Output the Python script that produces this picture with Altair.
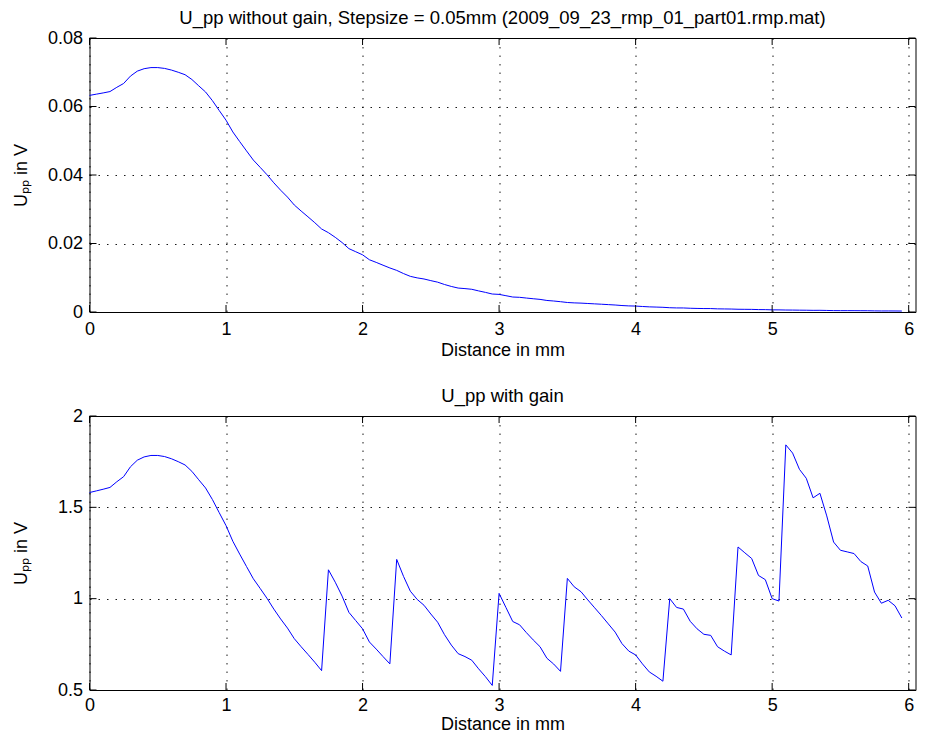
import altair as alt
import pandas as pd

# Distance in mm (step size 0.05 mm)
dist = [0.00, 0.05, 0.10, 0.15, 0.20, 0.25, 0.30, 0.35, 0.40, 0.45,
        0.50, 0.55, 0.60, 0.65, 0.70, 0.75, 0.80, 0.85, 0.90, 0.95,
        1.00, 1.05, 1.10, 1.15, 1.20, 1.25, 1.30, 1.35, 1.40, 1.45,
        1.50, 1.55, 1.60, 1.65, 1.70, 1.75, 1.80, 1.85, 1.90, 1.95,
        2.00, 2.05, 2.10, 2.15, 2.20, 2.25, 2.30, 2.35, 2.40, 2.45,
        2.50, 2.55, 2.60, 2.65, 2.70, 2.75, 2.80, 2.85, 2.90, 2.95,
        3.00, 3.05, 3.10, 3.15, 3.20, 3.25, 3.30, 3.35, 3.40, 3.45,
        3.50, 3.55, 3.60, 3.65, 3.70, 3.75, 3.80, 3.85, 3.90, 3.95,
        4.00, 4.05, 4.10, 4.15, 4.20, 4.25, 4.30, 4.35, 4.40, 4.45,
        4.50, 4.55, 4.60, 4.65, 4.70, 4.75, 4.80, 4.85, 4.90, 4.95,
        5.00, 5.05, 5.10, 5.15, 5.20, 5.25, 5.30, 5.35, 5.40, 5.45,
        5.50, 5.55, 5.60, 5.65, 5.70, 5.75, 5.80, 5.85, 5.90, 5.95]

# U_pp without gain (V)
upp_raw = [0.06324, 0.0636, 0.06396, 0.06436, 0.0656, 0.06672, 0.06888, 0.07032, 0.07104, 0.07136,
           0.07136, 0.07112, 0.07064, 0.07, 0.06928, 0.06788, 0.06604, 0.06424, 0.06172, 0.05884,
           0.056, 0.05256, 0.04976, 0.04704, 0.04436, 0.04224, 0.04008, 0.03772, 0.03556, 0.03356,
           0.03124, 0.02948, 0.0278, 0.02608, 0.02424, 0.02316, 0.0218, 0.02028, 0.0185, 0.0176,
           0.0167, 0.01526, 0.01448, 0.01366, 0.01286, 0.01215, 0.01122, 0.01041, 0.00996, 0.00964,
           0.00916, 0.00871, 0.00803, 0.00746, 0.00699, 0.00683, 0.00663, 0.00616, 0.00573, 0.00525,
           0.005145, 0.00476, 0.004375, 0.004285, 0.00407, 0.00387, 0.003685, 0.00337, 0.00321, 0.00301,
           0.002778, 0.002663, 0.002595, 0.002483, 0.002375, 0.002268, 0.002155, 0.002043, 0.001885, 0.001783,
           0.00173, 0.001608, 0.001498, 0.001438, 0.00137, 0.00125, 0.00119, 0.001179, 0.001095, 0.001044,
           0.001006, 0.000999, 0.000921, 0.000891, 0.000865, 0.000802, 0.000782, 0.000763, 0.000704, 0.00069,
           0.000625, 0.000617, 0.000576, 0.000562, 0.000534, 0.000518, 0.000485, 0.000493, 0.000454, 0.000409,
           0.000395, 0.000393, 0.00039, 0.000376, 0.000368, 0.000324, 0.000305, 0.00031, 0.0003, 0.000279]

# U_pp with gain (V)
upp_gain = [1.581, 1.590, 1.599, 1.609, 1.640, 1.668, 1.722, 1.758, 1.776, 1.784,
            1.784, 1.778, 1.766, 1.750, 1.732, 1.697, 1.651, 1.606, 1.543, 1.471,
            1.400, 1.314, 1.244, 1.176, 1.109, 1.056, 1.002, 0.943, 0.889, 0.839,
            0.781, 0.737, 0.695, 0.652, 0.606, 1.158, 1.090, 1.014, 0.925, 0.880,
            0.835, 0.763, 0.724, 0.683, 0.643, 1.215, 1.122, 1.041, 0.996, 0.964,
            0.916, 0.871, 0.803, 0.746, 0.699, 0.683, 0.663, 0.616, 0.573, 0.525,
            1.029, 0.952, 0.875, 0.857, 0.814, 0.774, 0.737, 0.674, 0.642, 0.602,
            1.111, 1.065, 1.038, 0.993, 0.950, 0.907, 0.862, 0.817, 0.754, 0.713,
            0.692, 0.643, 0.599, 0.575, 0.548, 1.000, 0.952, 0.943, 0.876, 0.835,
            0.805, 0.799, 0.737, 0.713, 0.692, 1.283, 1.251, 1.220, 1.127, 1.104,
            1.000, 0.987, 1.842, 1.797, 1.708, 1.659, 1.552, 1.577, 1.453, 1.310,
            1.265, 1.256, 1.247, 1.203, 1.179, 1.036, 0.975, 0.991, 0.961, 0.894]

x_ticks = [0, 1, 2, 3, 4, 5, 6]
y_ticks_top = [0, 0.02, 0.04, 0.06, 0.08]
y_ticks_bottom = [0.5, 1, 1.5, 2]

title_top = "U_pp without gain, Stepsize = 0.05mm (2009_09_23_rmp_01_part01.rmp.mat)"
title_bottom = "U_pp with gain"
x_title = "Distance in mm"
y_title = "U\u209a\u209a in V"

W = 826
H = 274
XDOM = [0, 6.05]
FONT = "Liberation Sans"
TICK = 7

df = pd.DataFrame({"dist": dist, "raw": upp_raw, "gain": upp_gain})


def panel(field, ydom, yticks, title, xtitle_y, xlabel_pad):
    x_enc = alt.X("dist:Q", scale=alt.Scale(domain=XDOM, nice=False, zero=False),
                  axis=alt.Axis(values=x_ticks, format="d", title=x_title,
                                titleX=W / 2, titleY=xtitle_y, titleAlign="center",
                                titleBaseline="alphabetic", labelFlush=False,
                                labelBaseline="alphabetic", labelPadding=xlabel_pad))
    y_enc = alt.Y(f"{field}:Q", scale=alt.Scale(domain=ydom, nice=False, zero=False),
                  axis=alt.Axis(values=yticks, format="~g", title=y_title,
                                titleAngle=270, titleX=-63, titleY=H / 2,
                                titleAlign="center", titleBaseline="alphabetic",
                                labelBaseline="middle", labelAlign="right",
                                labelPadding=7))
    line = alt.Chart(df).mark_line(color="#0000ff", strokeWidth=1).encode(
        x=x_enc, y=y_enc)
    xt = pd.DataFrame({"dist": x_ticks})
    yt = pd.DataFrame({field: yticks})
    tk_top = alt.Chart(xt).mark_rule(color="black", strokeWidth=1).encode(
        x=x_enc, y=alt.value(0), y2=alt.value(TICK))
    tk_bot = alt.Chart(xt).mark_rule(color="black", strokeWidth=1).encode(
        x=x_enc, y=alt.value(H), y2=alt.value(H - TICK))
    tk_left = alt.Chart(yt).mark_rule(color="black", strokeWidth=1).encode(
        y=y_enc, x=alt.value(0), x2=alt.value(TICK))
    tk_right = alt.Chart(yt).mark_rule(color="black", strokeWidth=1).encode(
        y=y_enc, x=alt.value(W), x2=alt.value(W - TICK))
    return alt.layer(line, tk_top, tk_bot, tk_left, tk_right).properties(
        width=W, height=H,
        title=alt.TitleParams(title, fontSize=18.5, font=FONT, fontWeight="normal",
                              color="black", anchor="middle",
                              baseline="alphabetic", offset=15.5, dy=29),
    )


top = panel("raw", [0, 0.08], y_ticks_top, title_top, 43, 22)
bottom = panel("gain", [0.5, 2], y_ticks_bottom, title_bottom, 39, 20)

chart = alt.vconcat(top, bottom, spacing=104, bounds="flush").properties(
    padding={"left": 3.5, "top": 0, "right": 0, "bottom": 0},
    background="white",
).configure_view(
    stroke="black", strokeWidth=1, fill="white"
).configure_axis(
    labelFont=FONT, labelFontSize=18, labelColor="black",
    titleFont=FONT, titleFontSize=18, titleFontWeight="normal", titleColor="black",
    grid=True, gridColor="black", gridDash=[1.5, 7], gridOpacity=0.9, gridWidth=1,
    domain=False, ticks=False, tickSize=0,
)

chart.save("out.html", embed_options={"renderer": "svg", "actions": False})
